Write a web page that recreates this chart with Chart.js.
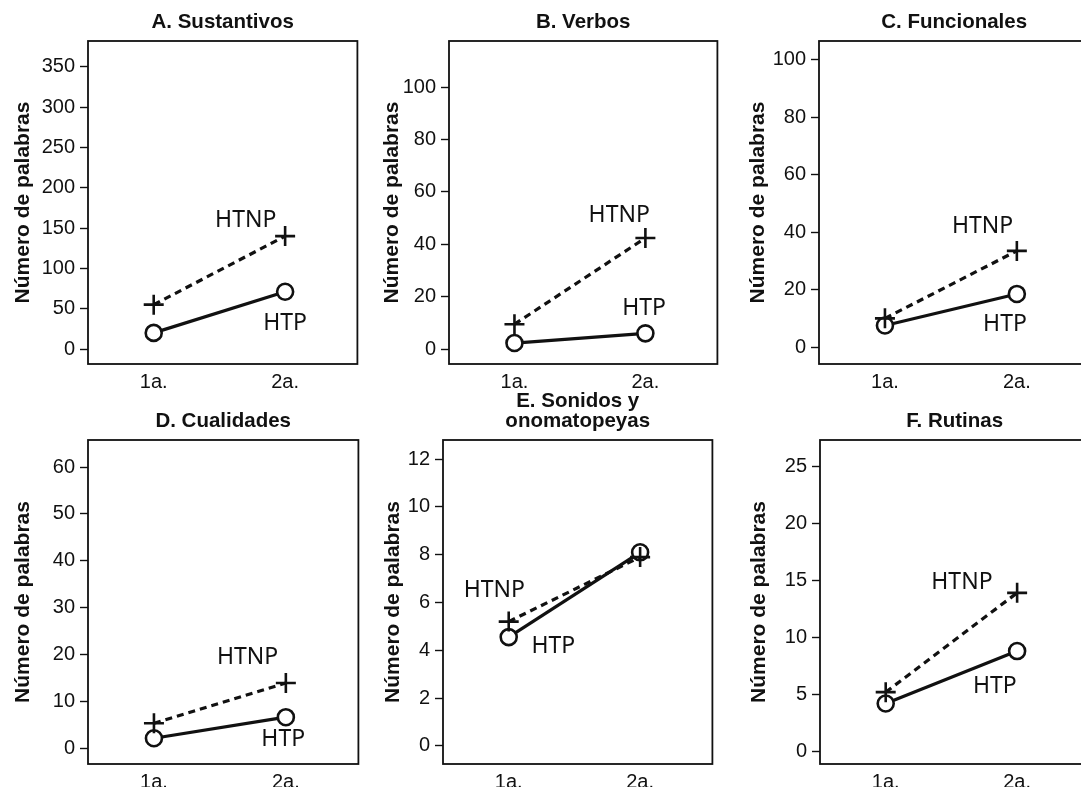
<!DOCTYPE html>
<html>
<head>
<meta charset="utf-8">
<script src="https://cdn.jsdelivr.net/npm/chart.js@4"></script>
<style>
  body { margin: 0; background: #fff; width: 1081px; height: 787px; overflow: hidden; position: relative; }
  canvas { position: absolute; }
</style>
</head>
<body>
<script>
// data
const periods = ['1a.', '2a.'];
const panelTitles = [['A. Sustantivos'], ['B. Verbos'], ['C. Funcionales'], ['D. Cualidades'], ['E. Sonidos y', 'onomatopeyas'], ['F. Rutinas']];
const htpValues = [[20, 71], [2.3, 6], [7.5, 18.5], [2.1, 6.6], [4.55, 8.1], [4.2, 8.8]];
const htnpValues = [[55, 140], [9.5, 42.4], [10, 33.5], [5.3, 13.9], [5.2, 7.9], [5.2, 13.9]];
const yTicks = [
    [0, 50, 100, 150, 200, 250, 300, 350],
    [0, 20, 40, 60, 80, 100],
    [0, 20, 40, 60, 80, 100],
    [0, 10, 20, 30, 40, 50, 60],
    [0, 2, 4, 6, 8, 10, 12],
    [0, 5, 10, 15, 20, 25]
];
const yLimits = [[-18.6, 382], [-5.7, 117.6], [-5.9, 106.6], [-3.4, 65.8], [-0.76, 12.8], [-1.1, 27.3]];

// where the series names sit (data coords)
const labelSpots = [
    { htnp: [1.70, 160], htp: [2.0, 32] },
    { htnp: [1.80, 51], htp: [1.99, 15.6] },
    { htnp: [1.74, 42], htp: [1.91, 8] },
    { htnp: [1.71, 19.4], htp: [1.98, 1.9] },
    { htnp: [0.89, 6.5], htp: [1.34, 4.16] },
    { htnp: [1.58, 14.8], htp: [1.83, 5.7] }
];

// plot boxes in page pixels: left, top, right, bottom, y-title centre
const boxes = [
    [88, 41, 358, 364, 23],
    [449, 41, 718, 364, 392],
    [819, 41, 1090, 364, 758],
    [88, 440, 359, 764, 23],
    [443, 440, 713, 764, 393],
    [820, 440, 1090, 764, 759]
];

const TOP_PAD = 60, X_AXIS_H = 28;
const FONT = '"Liberation Sans", Arial, sans-serif';

const boxAndText = {
    id: 'boxAndText',
    afterDatasetsDraw(chart, args, opts) {
        const { ctx, chartArea: a, scales } = chart;
        ctx.save();
        ctx.strokeStyle = '#111';
        ctx.lineWidth = 1.8;
        ctx.strokeRect(a.left, a.top, a.right - a.left, a.bottom - a.top);

        // panel title
        ctx.fillStyle = '#111';
        ctx.font = 'bold 20.5px ' + FONT;
        ctx.textAlign = 'center';
        ctx.textBaseline = 'middle';
        const cx = (a.left + a.right) / 2;
        const lines = opts.title;
        lines.forEach((t, i) => {
            const y = a.top - 19 - (lines.length - 1 - i) * 20;
            ctx.fillText(t, cx, y);
        });

        // series names
        ctx.font = '23px "Noto Sans", sans-serif';
        const put = (txt, p) => ctx.fillText(txt, scales.x.getPixelForValue(p[0]), scales.y.getPixelForValue(p[1]));
        put('HTNP', opts.spots.htnp);
        put('HTP', opts.spots.htp);
        ctx.restore();
    }
};

panelTitles.forEach((title, i) => {
    const [L, T, R, B, tx] = boxes[i];
    const left = tx - 12;
    const canvas = document.createElement('canvas');
    const w = R + 12 - left, h = TOP_PAD + (B - T) + X_AXIS_H;
    canvas.width = w;
    canvas.height = h;
    canvas.style.left = left + 'px';
    canvas.style.top = (T - TOP_PAD) + 'px';
    document.body.appendChild(canvas);

    const toPts = vals => vals.map((v, k) => ({ x: k + 1, y: v }));
    const tickVals = yTicks[i];

    new Chart(canvas, {
        type: 'line',
        data: {
            datasets: [
                {
                    label: 'HTNP', data: toPts(htnpValues[i]),
                    borderColor: '#111', borderWidth: 3.2, borderDash: [7, 5],
                    pointStyle: 'cross', pointRadius: 10, pointBorderWidth: 2.6,
                    pointBorderColor: '#111', fill: false, tension: 0
                },
                {
                    label: 'HTP', data: toPts(htpValues[i]),
                    borderColor: '#111', borderWidth: 3.2,
                    pointStyle: 'circle', pointRadius: 8, pointBorderWidth: 2.6,
                    pointBorderColor: '#111', pointBackgroundColor: '#fff', fill: false, tension: 0
                }
            ]
        },
        options: {
            responsive: false,
            animation: false,
            devicePixelRatio: 1,
            layout: { padding: { top: TOP_PAD, right: 12, left: 0, bottom: 0 } },
            plugins: {
                legend: { display: false },
                tooltip: { enabled: false },
                boxAndText: { title: title, spots: labelSpots[i] }
            },
            scales: {
                x: {
                    type: 'linear', min: 0.5, max: 2.55,
                    afterBuildTicks: s => { s.ticks = [{ value: 1 }, { value: 2 }]; },
                    afterFit: s => { s.height = X_AXIS_H; },
                    grid: { display: false, drawTicks: false },
                    border: { display: false },
                    ticks: {
                        padding: 6, color: '#111',
                        font: { family: FONT, size: 20 },
                        callback: v => periods[v - 1]
                    }
                },
                y: {
                    min: yLimits[i][0], max: yLimits[i][1],
                    afterBuildTicks: s => { s.ticks = tickVals.map(v => ({ value: v })); },
                    afterFit: s => { s.width = L - left; },
                    grid: { drawOnChartArea: false, drawTicks: true, tickLength: 8, tickColor: '#111', tickWidth: 1.4 },
                    border: { display: false },
                    ticks: {
                        padding: 5, color: '#111',
                        font: { family: FONT, size: 20 }
                    },
                    title: {
                        display: true, text: 'Número de palabras', color: '#111', padding: 0,
                        font: { family: FONT, size: 21, weight: 'bold' }
                    }
                }
            }
        },
        plugins: [boxAndText]
    });
});
</script>
</body>
</html>
